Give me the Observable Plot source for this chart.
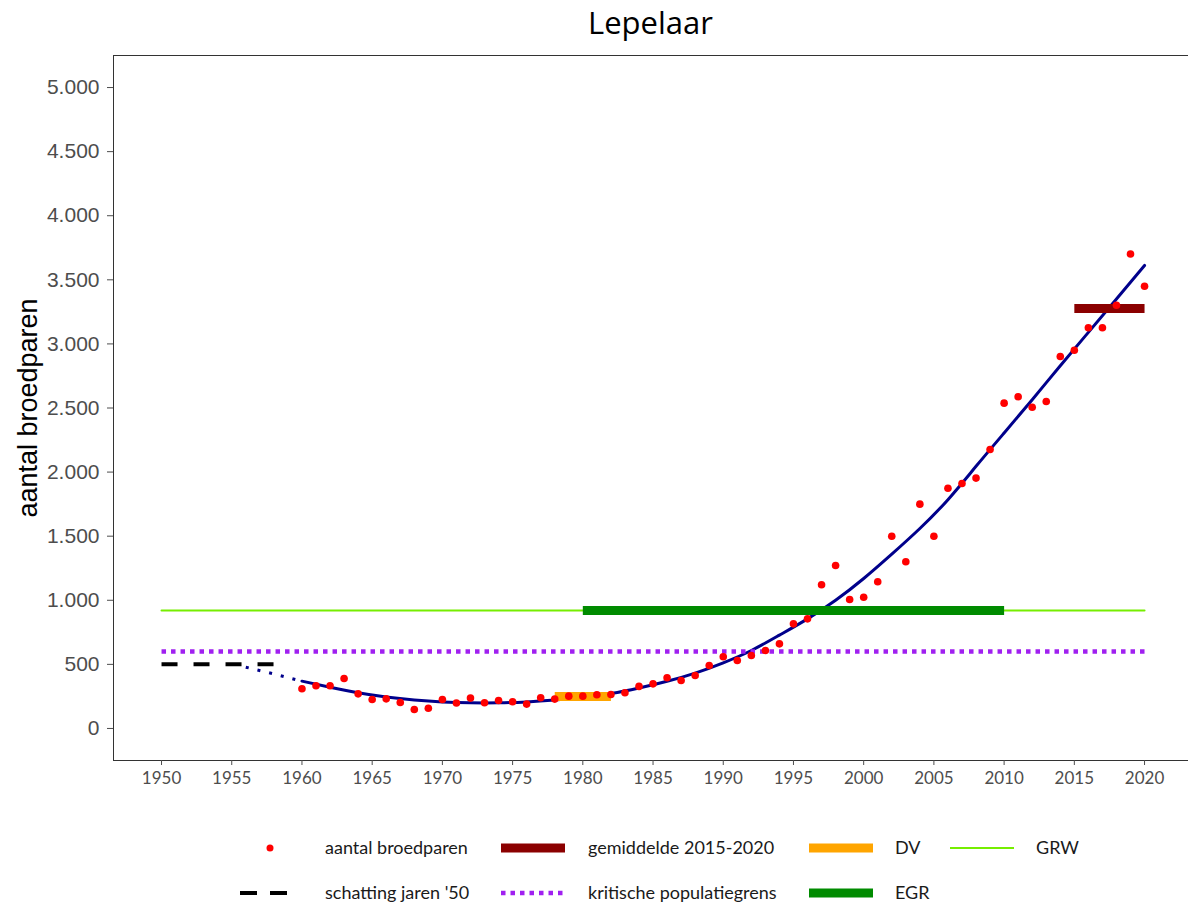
<!DOCTYPE html>
<html><head><meta charset="utf-8">
<script src="https://cdn.jsdelivr.net/npm/d3@7"></script>
<script src="https://cdn.jsdelivr.net/npm/@observablehq/plot@0.6"></script>
<style>
body{margin:0;background:#fff;}
#wrap{position:relative;width:1188px;height:904px;overflow:hidden;font-family:Lato,"Open Sans",sans-serif;background:#fff;}
#chart{position:absolute;left:0;top:0;}
#title{position:absolute;left:113px;width:1075px;top:3px;text-align:center;font-size:31px;line-height:38px;color:#000;font-family:"Open Sans",Lato,sans-serif;}
#ylab{position:absolute;left:28px;top:408px;transform:translate(-50%,-50%) rotate(-90deg);font-family:"Liberation Sans",Arial,sans-serif;font-size:27px;white-space:nowrap;color:#000;}
.leg{position:absolute;font-size:18px;color:#1a1a1a;white-space:nowrap;line-height:20px;}
.key{position:absolute;overflow:visible;}
</style></head>
<body>
<div id="wrap">
  <div id="chart"></div>
  <div id="title">Lepelaar</div>
  <div id="ylab">aantal broedparen</div>
  <div id="legend"></div>
</div>
<script>
// ---- data ----
const years = [1960,1961,1962,1963,1964,1965,1966,1967,1968,1969,
               1970,1971,1972,1973,1974,1975,1976,1977,1978,1979,
               1980,1981,1982,1983,1984,1985,1986,1987,1988,1989,
               1990,1991,1992,1993,1994,1995,1996,1997,1998,1999,
               2000,2001,2002,2003,2004,2005,2006,2007,2008,2009,
               2010,2011,2012,2013,2014,2015,2016,2017,2018,2019,2020];
const broedparen = [310,333,333,390,270,226,231,203,148,158,
                    226,198,237,200,218,208,190,240,229,252,
                    252,263,265,278,328,348,395,374,413,491,
                    559,530,569,608,660,816,855,1121,1271,1006,
                    1024,1144,1500,1300,1750,1500,1874,1911,1953,2176,
                    2538,2588,2506,2551,2902,2951,3126,3126,3302,3702,3450];

const trendYears  = [1960,1962,1964,1966,1968,1970,1972,1974,1976,1978,1980,1982,1984,1986,1988,1990,1992,1994,1996,1998,2000,2002,2004,2006,2008,2010,2012,2014,2016,2018,2020];
const trendValues = [369,322,278,245,222,207,200,200,207,222,243,272,315,368,432,512,608,728,855,1000,1170,1360,1560,1785,2045,2305,2565,2830,3090,3350,3612];
const trendBackYears  = [1956,1958,1960];
const trendBackValues = [478,425,369];

const estimateSpan = [1950,1958]; const estimateLevel = 500;   // schatting jaren '50
const meanSpan     = [2015,2020]; const meanLevel     = 3276;  // gemiddelde 2015-2020
const dvSpan       = [1978,1982]; const dvLevel       = 250;   // DV
const grwSpan      = [1950,2020]; const grwLevel      = 920;   // GRW
const critSpan     = [1950,2020]; const critLevel     = 600;   // kritische populatiegrens
const egrSpan      = [1980,2010]; const egrLevel      = 920;   // EGR

const xTicks = [1950,1955,1960,1965,1970,1975,1980,1985,1990,1995,2000,2005,2010,2015,2020];
const yTicks = [0,500,1000,1500,2000,2500,3000,3500,4000,4500,5000];

// ---- build ----
const nl = d3.formatLocale({decimal: ",", thousands: ".", grouping: [3], currency: ["€", ""]});
const fmt = nl.format(",d");
const pts = years.map((y, i) => ({year: y, n: broedparen[i]}));
const trend = trendYears.map((y, i) => ({year: y, n: trendValues[i]}));
const trendBack = trendBackYears.map((y, i) => ({year: y, n: trendBackValues[i]}));
const seg = (span, level) => span.map(x => ({year: x, n: level}));

const X0 = 1946.58, X1 = 2023.13, Y0 = -250, Y1 = 5250;

const chart = Plot.plot({
  width: 1188, height: 800,
  marginTop: 55, marginLeft: 113, marginRight: 0, marginBottom: 40,
  x: {domain: [X0, X1]},
  y: {domain: [Y0, Y1]},
  style: {background: "white", overflow: "visible"},
  marks: [
    Plot.line(trendBack, {x: "year", y: "n", stroke: "#00008B", strokeWidth: 3, strokeDasharray: "3,9", curve: "natural", strokeLinecap: "butt"}),
    Plot.line(trend, {x: "year", y: "n", stroke: "#00008B", strokeWidth: 3, curve: "natural"}),
    Plot.line(seg(grwSpan, grwLevel), {x: "year", y: "n", stroke: "#76EE00", strokeWidth: 2}),
    Plot.line(seg(egrSpan, egrLevel), {x: "year", y: "n", stroke: "#008B00", strokeWidth: 9, strokeLinecap: "butt"}),
    Plot.line(seg(dvSpan, dvLevel), {x: "year", y: "n", stroke: "#FFA500", strokeWidth: 9, strokeLinecap: "butt"}),
    Plot.line(seg(critSpan, critLevel), {x: "year", y: "n", stroke: "#A020F0", strokeWidth: 4.5, strokeDasharray: "4.5,5", strokeLinecap: "butt"}),
    Plot.line(seg(estimateSpan, estimateLevel), {x: "year", y: "n", stroke: "#000", strokeWidth: 4, strokeDasharray: "16,16", strokeLinecap: "butt"}),
    Plot.line(seg(meanSpan, meanLevel), {x: "year", y: "n", stroke: "#8B0000", strokeWidth: 9, strokeLinecap: "butt"}),
    Plot.dot(pts, {x: "year", y: "n", r: 3.8, fill: "#FF0000", stroke: "none"}),
    Plot.ruleY([Y1, Y0], {stroke: "#333", strokeWidth: 1}),
    Plot.ruleX([X0], {stroke: "#333", strokeWidth: 1}),
    Plot.axisY({ticks: yTicks, tickFormat: fmt, tickSize: 6, tickPadding: 8, fontSize: 21, fontFamily: "Liberation Sans", color: "#4d4d4d", label: null}),
    Plot.axisX({ticks: xTicks, tickFormat: d => String(d), tickSize: 5, tickPadding: 6, fontSize: 17, fontFamily: "Lato", color: "#4d4d4d", label: null})
  ]
});
document.getElementById("chart").appendChild(chart);

// ---- legend ----
const legendItems = [
  {row: 0, kx: 240, tx: 325, label: "aantal broedparen", type: "dot", color: "#FF0000"},
  {row: 0, kx: 501, tx: 588, label: "gemiddelde 2015-2020", type: "thick", color: "#8B0000"},
  {row: 0, kx: 809, tx: 895, label: "DV", type: "thick", color: "#FFA500"},
  {row: 0, kx: 950, tx: 1036, label: "GRW", type: "thin", color: "#76EE00"},
  {row: 1, kx: 240, tx: 325, label: "schatting jaren '50", type: "dash", color: "#000"},
  {row: 1, kx: 501, tx: 588, label: "kritische populatiegrens", type: "dot2", color: "#A020F0"},
  {row: 1, kx: 809, tx: 895, label: "EGR", type: "thick", color: "#008B00"}
];
const rowY = [848, 893];
const leg = document.getElementById("legend");
for (const it of legendItems) {
  const y = rowY[it.row];
  let svg;
  if (it.type === "dot") svg = `<svg class="key" style="left:${it.kx}px;top:${y-10}px" width="64" height="20"><circle cx="30" cy="10" r="3.5" fill="${it.color}"/></svg>`;
  else if (it.type === "thick") svg = `<svg class="key" style="left:${it.kx}px;top:${y-10}px" width="64" height="20"><line x1="0" x2="64" y1="10" y2="10" stroke="${it.color}" stroke-width="9"/></svg>`;
  else if (it.type === "thin") svg = `<svg class="key" style="left:${it.kx}px;top:${y-10}px" width="64" height="20"><line x1="0" x2="64" y1="10" y2="10" stroke="${it.color}" stroke-width="2"/></svg>`;
  else if (it.type === "dash") svg = `<svg class="key" style="left:${it.kx}px;top:${y-10}px" width="64" height="20"><line x1="0" x2="48" y1="10" y2="10" stroke="${it.color}" stroke-width="4" stroke-dasharray="17,13"/></svg>`;
  else svg = `<svg class="key" style="left:${it.kx}px;top:${y-10}px" width="64" height="20"><line x1="0" x2="62" y1="10" y2="10" stroke="${it.color}" stroke-width="4.5" stroke-dasharray="4.5,5"/></svg>`;
  leg.insertAdjacentHTML("beforeend", svg + `<div class="leg" style="left:${it.tx}px;top:${y-11}px">${it.label}</div>`);
}
</script>
</body></html>
